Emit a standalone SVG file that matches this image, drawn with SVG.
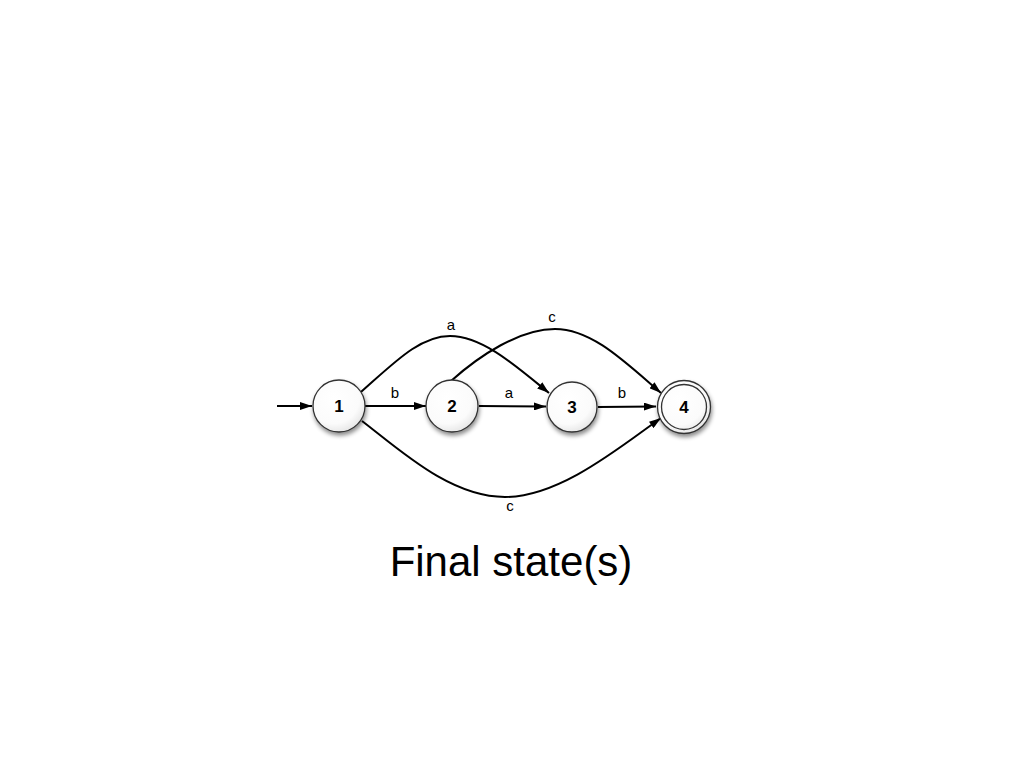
<svg xmlns="http://www.w3.org/2000/svg" width="1024" height="768" viewBox="0 0 1024 768">
<style>
.edge{fill:none;stroke:#000;stroke-width:2}
.lbl{font-family:"Liberation Sans",Arial,sans-serif;font-size:15px;fill:#000;text-anchor:middle}
.num{font-family:"Liberation Sans",Arial,sans-serif;font-size:17px;font-weight:bold;fill:#000;text-anchor:middle}
.st{fill:url(#g);stroke:#333;stroke-width:1.3}
</style>
<defs>
<radialGradient id="g" cx="0.4" cy="0.35" r="0.7">
<stop offset="0" stop-color="#ffffff"/>
<stop offset="0.7" stop-color="#fbfbfb"/>
<stop offset="1" stop-color="#e4e4e4"/>
</radialGradient>
<filter id="sh" x="-30%" y="-30%" width="170%" height="170%">
<feDropShadow dx="1" dy="3" stdDeviation="2" flood-color="#000" flood-opacity="0.45"/>
</filter>
<marker id="ah" viewBox="0 0 12 8" refX="12" refY="4" markerWidth="12" markerHeight="8" markerUnits="userSpaceOnUse" orient="auto">
<path d="M0,0 L12,4 L0,8 z" fill="#000"/>
</marker>
</defs>
<rect width="1024" height="768" fill="#fff"/>
<g id="connectors">
<path class="edge" d="M277,406 L312,406" marker-end="url(#ah)"/>
<path class="edge" d="M365,406 L426,406" marker-end="url(#ah)"/>
<path class="edge" d="M479,406 L546,406.5" marker-end="url(#ah)"/>
<path class="edge" d="M598,407 L656,406.5" marker-end="url(#ah)"/>
<path class="edge" d="M361,392 C395,362 420,336 450,336 C482,336 515,365 549,393" marker-end="url(#ah)"/>
<path class="edge" d="M451,381 C480,355 520,329 555,329 C592,329 625,362 661,393" marker-end="url(#ah)"/>
<path class="edge" d="M362,421 C400,450 450,497 505,497 C560,497 620,447 661,418" marker-end="url(#ah)"/>
<text class="lbl" x="395" y="398">b</text>
<text class="lbl" x="509" y="398">a</text>
<text class="lbl" x="622" y="398">b</text>
<text class="lbl" x="451" y="330">a</text>
<text class="lbl" x="552" y="322">c</text>
<text class="lbl" x="510" y="511">c</text>
</g>
<g id="node1"><circle class="st" cx="339" cy="406" r="26" filter="url(#sh)"/><text class="num" x="339" y="412">1</text></g>
<g id="node2"><circle class="st" cx="452" cy="406" r="26" filter="url(#sh)"/><text class="num" x="452" y="412">2</text></g>
<g id="node3"><circle class="st" cx="572" cy="407" r="25" filter="url(#sh)"/><text class="num" x="572" y="413">3</text></g>
<g id="node4"><circle class="st" cx="684" cy="407" r="26.5" filter="url(#sh)"/><circle cx="684" cy="407" r="22.5" fill="none" stroke="#333" stroke-width="1.3"/><text class="num" x="684" y="413">4</text></g>
<text id="title" x="511" y="576" font-family="'Liberation Sans',Arial,sans-serif" font-size="42" text-anchor="middle" fill="#000">Final state(s)</text>
</svg>
